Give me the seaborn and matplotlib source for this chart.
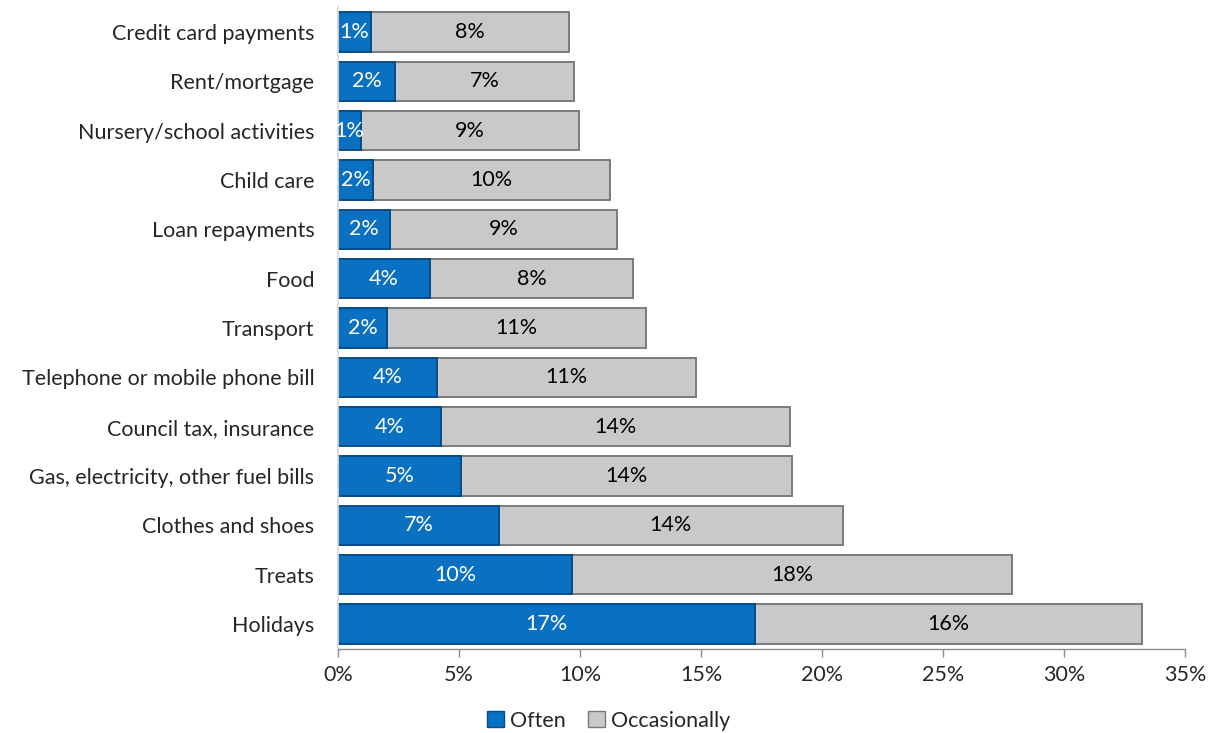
import matplotlib
matplotlib.use("Agg")
import matplotlib.pyplot as plt
import seaborn as sns
import pandas as pd
from matplotlib.patches import Patch
from matplotlib.ticker import FuncFormatter

categories = ["Credit card payments", "Rent/mortgage", "Nursery/school activities",
              "Child care", "Loan repayments", "Food", "Transport",
              "Telephone or mobile phone bill", "Council tax, insurance",
              "Gas, electricity, other fuel bills", "Clothes and shoes", "Treats", "Holidays"]
often = [1.36, 2.36, 0.95, 1.45, 2.15, 3.8, 2.02, 4.09, 4.26, 5.08, 6.65, 9.67, 17.23]
occasionally = [8.2, 7.4, 9.0, 9.8, 9.4, 8.4, 10.7, 10.7, 14.4, 13.7, 14.2, 18.2, 16.0]
often_labels = ["1%", "2%", "1%", "2%", "2%", "4%", "2%", "4%", "4%", "5%", "7%", "10%", "17%"]
occ_labels = ["8%", "7%", "9%", "10%", "9%", "8%", "11%", "11%", "14%", "14%", "14%", "18%", "16%"]
xticks = [0, 5, 10, 15, 20, 25, 30, 35]

sns.set_theme(style="white")
plt.rcParams['font.family'] = ['Lato', 'DejaVu Sans']

df = pd.DataFrame({"cat": categories, "often": often, "occ": occasionally})
df["total"] = df["often"] + df["occ"]

fig = plt.figure(figsize=(12.17, 7.33), dpi=100)
ax = fig.add_axes([0.2777, 0.115, 0.696, 0.875])

BLUE = "#0A70C2"
GRAY = "#C9C9C9"
FS = 15.5
sns.barplot(data=df, y="cat", x="total", orient="h", color=GRAY, width=0.8,
            edgecolor="#7A7A7A", linewidth=1.4, ax=ax, saturation=1)
sns.barplot(data=df, y="cat", x="often", orient="h", color=BLUE, width=0.8,
            edgecolor="#084C86", linewidth=1.4, ax=ax, saturation=1)

for i, (o, c, ol, cl) in enumerate(zip(often, occasionally, often_labels, occ_labels)):
    ax.text(o / 2, i, ol, ha="center", va="center", color="white", fontsize=FS)
    ax.text(o + c / 2, i, cl, ha="center", va="center", color="black", fontsize=FS)

ax.set_xlim(0, 35)
ax.set_ylim(12.5, -0.5)
ax.set_xticks(xticks)
ax.xaxis.set_major_formatter(FuncFormatter(lambda v, p: f"{int(v)}%"))
ax.set_xlabel("")
ax.set_ylabel("")
ax.tick_params(axis="x", labelsize=FS, length=6, width=1, color="#8C8C8C", direction="out", bottom=True, pad=6)
ax.tick_params(axis="y", labelsize=FS, length=0, pad=17)
for s in ["top", "right"]:
    ax.spines[s].set_visible(False)
ax.spines["left"].set_color("#D9D9D9")
ax.spines["bottom"].set_color("#8C8C8C")
ax.spines["bottom"].set_linewidth(1)

handles = [Patch(facecolor=BLUE, edgecolor="#084C86", label="Often"),
           Patch(facecolor=GRAY, edgecolor="#7A7A7A", label="Occasionally")]
fig.legend(handles=handles, loc="center", bbox_to_anchor=(0.5, 0.017), ncol=2, frameon=False,
           fontsize=FS, handlelength=0.8, handleheight=0.8, handletextpad=0.3, columnspacing=1.0)

fig.savefig("out.png", dpi=100)
